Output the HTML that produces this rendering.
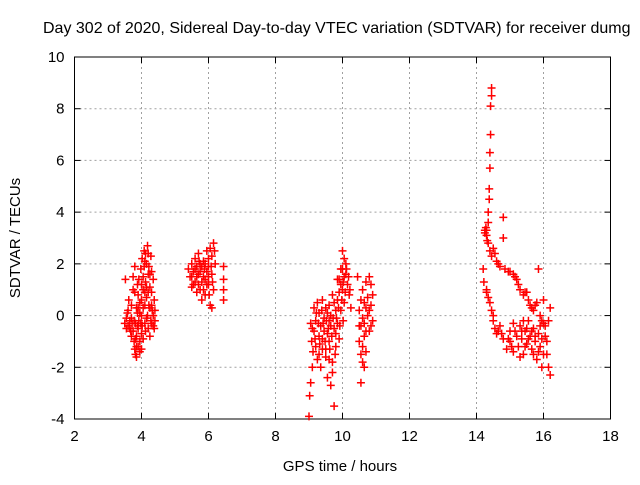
<!DOCTYPE html>
<html><head><meta charset="utf-8"><style>
body{margin:0;background:#fff}
svg text{font-family:"Liberation Sans",sans-serif;fill:#000}
</style></head><body>
<svg id="chart" width="640" height="480" viewBox="0 0 640 480" xmlns="http://www.w3.org/2000/svg">
<rect width="640" height="480" fill="#fff"/>
<text x="43" y="33" font-size="16">Day 302 of 2020, Sidereal Day-to-day VTEC variation (SDTVAR) for receiver dumg</text>
<g id="grid"></g>
<g id="axes"></g>
<g id="points"></g>
<text x="340" y="471" font-size="15" text-anchor="middle">GPS time / hours</text>
<text x="20" y="238" font-size="15" text-anchor="middle" transform="rotate(-90 20 238)">SDTVAR / TECUs</text>
</svg>
<script>
const xTicks=[2,4,6,8,10,12,14,16,18];
const yTicks=[-4,-2,0,2,4,6,8,10];
const clusterA=[[3.5,-0.3],[3.52,1.4],[3.55,-0.5],[3.58,0.1],[3.6,-0.4],[3.62,0.6],[3.65,-0.2],[3.68,-0.6],[3.7,-0.8],[3.72,-0.3],[3.75,1.0],[3.75,1.5],[3.78,-1.0],[3.8,1.9],[3.8,-1.3],[3.82,-1.5],[3.85,0.3],[3.85,-1.6],[3.88,1.2],[3.9,-1.2],[3.9,0.8],[3.92,-0.2],[3.95,0.5],[3.95,-1.4],[3.98,1.8],[4.0,-0.7],[4.0,0.0],[4.02,2.2],[4.05,1.5],[4.05,-0.9],[4.08,2.5],[4.1,0.9],[4.1,-0.3],[4.12,1.3],[4.15,2.0],[4.15,-0.1],[4.18,2.7],[4.2,1.6],[4.2,-0.5],[4.22,0.4],[4.25,1.1],[4.25,-0.8],[4.28,2.3],[4.3,-0.3],[4.3,1.7],[4.32,0.2],[4.35,-0.4],[4.35,1.4],[4.38,0.6],[4.4,-0.2],[3.85,-0.8],[3.88,-0.4],[4.0,0.6],[4.05,1.0],[4.1,2.1],[4.2,2.4],[3.7,-0.1],[3.95,-1.0],[4.15,0.7],[4.3,0.9],
[3.55,-0.1],[3.6,0.2],[3.65,-0.5],[3.7,0.4],[3.75,-0.6],[3.78,-0.2],[3.8,0.9],[3.82,-0.9],[3.85,-1.2],[3.88,0.1],[3.9,-0.5],[3.92,1.4],[3.95,0.1],[3.98,-0.3],[4.0,1.2],[4.02,-0.4],[4.05,0.3],[4.08,1.9],[4.1,0.4],[4.12,-0.6],[4.15,1.1],[4.18,0.0],[4.2,0.9],[4.22,1.9],[4.25,0.3],[4.28,-0.2],[4.3,0.4],[4.35,0.0],[4.38,-0.5],[4.4,0.2],[4.12,2.4],[4.25,1.6],[3.9,0.3],[3.82,-0.3],[4.0,-1.3]];
const clusterB=[[5.4,1.8],[5.45,1.5],[5.5,1.1],[5.5,2.0],[5.55,1.7],[5.6,1.3],[5.6,2.2],[5.65,0.9],[5.7,1.6],[5.7,2.4],[5.75,1.0],[5.8,1.9],[5.8,0.6],[5.85,2.1],[5.9,1.4],[5.9,0.8],[5.95,2.5],[6.0,1.2],[6.0,1.9],[6.05,0.4],[6.05,2.6],[6.1,0.3],[6.1,1.6],[6.15,2.8],[6.15,1.0],[6.2,2.0],[6.45,1.9],[6.45,1.4],[6.45,1.0],[6.45,0.6],[5.65,1.9],[5.75,2.0],[5.85,1.5],[5.95,1.7],[6.1,2.3],
[5.5,1.5],[5.55,1.2],[5.6,1.8],[5.65,1.5],[5.7,1.2],[5.75,1.7],[5.8,1.3],[5.85,1.0],[5.9,2.0],[5.95,1.2],[6.0,1.5],[6.02,0.8],[6.08,1.9],[6.12,1.3],[6.18,2.5],[5.72,2.1],[5.88,1.8],[6.0,2.2]];
const clusterC=[[9.0,-3.9],[9.02,-3.1],[9.05,-2.6],[9.05,-0.3],[9.08,-1.0],[9.1,-2.0],[9.12,-1.4],[9.15,-0.6],[9.15,0.3],[9.2,-1.2],[9.2,-0.2],[9.25,0.5],[9.25,-1.7],[9.3,-0.8],[9.3,0.1],[9.35,-2.0],[9.35,-0.4],[9.4,0.6],[9.4,-1.3],[9.45,-0.1],[9.5,0.3],[9.5,-1.6],[9.55,-2.4],[9.55,-0.7],[9.6,0.4],[9.6,-1.0],[9.65,-2.7],[9.65,0.0],[9.7,-1.8],[9.7,0.8],[9.75,-0.5],[9.75,-3.5],[9.8,0.2],[9.8,-1.2],[9.85,1.4],[9.85,-0.3],[9.9,0.9],[9.9,-0.9],[9.95,1.8],[9.95,0.2],[10.0,2.5],[10.0,1.0],[10.02,-0.2],[10.05,2.2],[10.05,0.5],[10.1,1.6],[10.1,2.0],[10.15,1.2],[10.2,0.8],[10.25,0.3],[9.45,-0.6],[9.55,0.1],[9.65,-0.4],[9.75,0.5],[9.85,0.6],[9.95,1.2],[10.05,1.5],[9.4,-0.9],[9.6,-0.2],[9.8,-0.7],
[9.1,-0.5],[9.18,-0.9],[9.22,0.1],[9.28,-0.3],[9.32,-1.1],[9.38,0.2],[9.42,-0.3],[9.48,-1.0],[9.52,-0.2],[9.58,-0.5],[9.62,-1.3],[9.68,-0.8],[9.72,-0.1],[9.78,-1.5],[9.82,-0.1],[9.88,0.3],[9.92,-0.4],[9.98,0.6],[10.02,1.3],[10.08,0.9],[10.12,1.8],[10.18,1.5],[10.22,1.0],[10.0,1.8],[9.9,1.4],[9.7,-2.2],[9.5,-1.3],[9.3,-1.5],[9.6,-1.7]];
const clusterC2=[[10.45,1.5],[10.5,0.2],[10.5,-1.0],[10.55,-2.6],[10.55,-0.4],[10.6,1.0],[10.6,-1.8],[10.65,0.5],[10.65,-0.8],[10.7,1.3],[10.7,-1.4],[10.75,0.0],[10.8,-0.6],[10.85,1.2],[10.85,0.4],[10.9,-0.2],[10.9,0.8],[10.6,-0.1],[10.7,0.3],
[10.5,-0.4],[10.55,0.6],[10.6,-1.2],[10.65,-0.3],[10.7,-0.6],[10.75,0.7],[10.8,0.2],[10.85,-0.4],[10.55,-1.5],[10.65,-2.0],[10.8,1.5]];
const clusterD=[[14.45,8.8],[14.45,8.5],[14.42,8.1],[14.42,7.0],[14.4,6.3],[14.4,5.7],[14.38,4.9],[14.38,4.5],[14.35,4.0],[14.35,3.6],[14.3,3.3],[14.25,3.2],[14.28,3.4],[14.32,2.9],[14.2,1.8],[14.22,1.3],[14.3,1.0],[14.8,3.8],[14.8,3.0],
[14.5,2.6],[14.55,2.4],[14.6,2.1],[14.7,1.9],[14.85,1.8],[15.0,1.7],[15.1,1.6],[15.2,1.4],[15.3,1.0],[15.4,0.8],[15.5,0.9],[15.6,0.4],[15.7,0.2],[15.8,0.5],[15.85,1.8],[15.9,0.0],[16.0,-0.3],[16.05,-0.8],[16.1,-1.5],[16.15,-2.0],[16.2,-2.3],[16.2,0.3],[16.15,-0.2],[16.0,0.6],
[14.3,0.9],[14.4,0.5],[14.45,0.2],[14.5,-0.2],[14.55,-0.5],[14.6,-0.7],[14.7,-0.4],[14.8,-0.9],[14.9,-1.3],[15.0,-0.6],[15.0,-1.0],[15.1,-0.3],[15.1,-1.4],[15.2,-0.8],[15.25,-1.2],[15.3,-0.4],[15.35,-0.9],[15.4,-1.5],[15.45,-0.6],[15.5,-1.1],[15.55,-0.2],[15.6,-0.8],[15.65,-1.3],[15.7,-0.5],[15.75,-1.0],[15.8,-1.7],[15.85,-0.7],[15.9,-1.2],[15.95,-2.0],[16.0,-1.5],[15.3,-1.6],[15.5,-0.5],[15.7,-1.5],[15.9,-0.4],[15.4,-0.2],
[14.25,3.3],[14.3,3.1],[14.35,2.8],[14.4,2.5],[14.45,2.3],[14.65,2.0],[14.95,1.7],[15.15,1.5],[15.25,1.2],[15.45,0.9],[15.55,0.6],[15.65,0.3],[15.75,0.4],[15.95,-0.2],[16.1,-1.0],[14.35,0.7],[14.5,0.0],[14.65,-0.6],[14.75,-0.7],[14.95,-0.9],[15.05,-1.2],[15.15,-0.6],[15.35,-0.6],[15.45,-1.2],[15.55,-0.9],[15.65,-0.6],[15.75,-0.8],[15.85,-1.4],[15.95,-0.9],[16.05,-0.4]];

const L=74.5,R=610.5,T=57,B=419;
function sx(v){return L+(v-2)/(18-2)*(R-L);}
function sy(v){return B-(v+4)/(10+4)*(B-T);}
const NS='http://www.w3.org/2000/svg';
function mk(tag,attrs,parent){const e=document.createElementNS(NS,tag);for(const k in attrs)e.setAttribute(k,attrs[k]);parent.appendChild(e);return e;}
const grid=document.getElementById('grid'),axes=document.getElementById('axes'),pts=document.getElementById('points');
xTicks.forEach(t=>{const x=sx(t);
 if(t>2&&t<18){const g=mk('line',{x1:x,x2:x,y1:T,y2:B,stroke:'#a0a0a0','stroke-dasharray':'2,3'},grid);
 
 }
 mk('line',{x1:x,x2:x,y1:B,y2:B-6,stroke:'#000'},axes);
 mk('line',{x1:x,x2:x,y1:T,y2:T+6,stroke:'#000'},axes);
 const tx=mk('text',{x:x,y:B+22,'font-size':'15','text-anchor':'middle'},axes);tx.textContent=t;
 
 
});
yTicks.forEach(t=>{const y=sy(t);
 if(t>-4&&t<10){const g=mk('line',{x1:L,x2:R,y1:y,y2:y,stroke:'#a0a0a0','stroke-dasharray':'2,3'},grid);
 
 }
 mk('line',{x1:L,x2:L+6,y1:y,y2:y,stroke:'#000'},axes);
 mk('line',{x1:R,x2:R-6,y1:y,y2:y,stroke:'#000'},axes);
 const tx=mk('text',{x:L-10,y:y+5,'font-size':'15','text-anchor':'end'},axes);tx.textContent=t;
 
 
});
const frame=mk('rect',{x:L,y:T,width:R-L,height:B-T,fill:'none',stroke:'#000'},axes);


[clusterA,clusterB,clusterC,clusterC2,clusterD].forEach(c=>c.forEach(p=>{
 const x=sx(p[0]),y=sy(p[1]);
 const e=mk('path',{d:`M${x-4},${y}H${x+4}M${x},${y-4}V${y+4}`,stroke:'#f00','stroke-width':'1.5',fill:'none'},pts);
 
 
}));
</script>
</body></html>
